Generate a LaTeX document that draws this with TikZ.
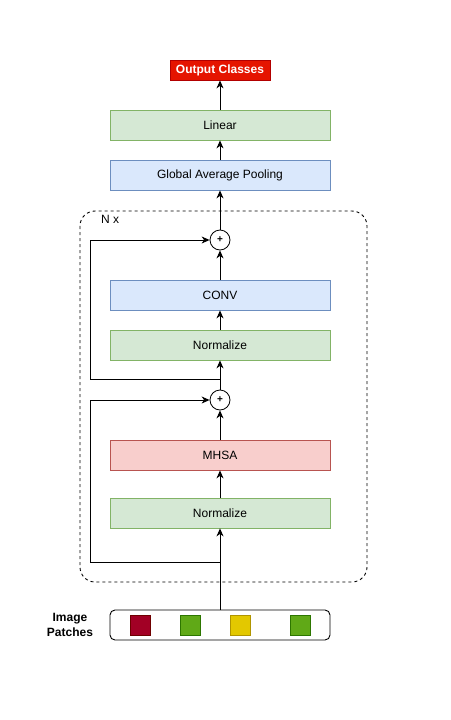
\documentclass[tikz,border=0pt]{standalone}
\usepackage{fontspec}
\setmainfont{Liberation Sans}
\usetikzlibrary{arrows.meta}
\definecolor{gfill}{HTML}{D5E8D4}\definecolor{gline}{HTML}{82B366}
\definecolor{bfill}{HTML}{DAE8FC}\definecolor{bline}{HTML}{6C8EBF}
\definecolor{rfill}{HTML}{F8CECC}\definecolor{rline}{HTML}{B85450}
\definecolor{ofill}{HTML}{E51400}\definecolor{oline}{HTML}{B20000}
\definecolor{p1f}{HTML}{A20025}\definecolor{p1l}{HTML}{6F0000}
\definecolor{p2f}{HTML}{60A917}\definecolor{p2l}{HTML}{2D7600}
\definecolor{p3f}{HTML}{E3C800}\definecolor{p3l}{HTML}{B09500}
\begin{document}
\begin{tikzpicture}[x=1pt,y=-1pt,
  every node/.style={font=\fontsize{12}{14}\selectfont, inner sep=0pt},
  box/.style={draw, minimum width=220pt, minimum height=30pt, line width=0.8pt},
  gbox/.style={box, fill=gfill, draw=gline},
  bbox/.style={box, fill=bfill, draw=bline},
  rbox/.style={box, fill=rfill, draw=rline},
  plus/.style={draw, circle, minimum size=20pt, line width=0.8pt, font=\bfseries\fontsize{10}{12}\selectfont},
  patch/.style={minimum size=20pt, line width=0.8pt},
  arr/.style={-{Stealth[length=8pt,width=7pt,inset=2.5pt]}, line width=0.9pt},
  ln/.style={line width=0.9pt}]
\useasboundingbox (0,0) rectangle (450,720);
% container
\draw[dash pattern=on 3pt off 3pt, line width=0.9pt, rounded corners=15pt, draw=black] (80,211) rectangle (367,582);
\node[anchor=west] (nx) at (101,219) {N x};
% nodes
\node[draw=oline, fill=ofill, text=white, font=\bfseries\fontsize{12}{14}\selectfont, minimum width=100pt, minimum height=20pt, line width=0.8pt] (out) at (220,70) {Output Classes};
\node[gbox] (lin) at (220,125) {Linear};
\node[bbox] (gap) at (220,175) {Global Average Pooling};
\node[plus] (p1) at (220,240) {+};
\node[bbox] (conv) at (220,295) {CONV};
\node[gbox] (norm2) at (220,345) {Normalize};
\node[plus] (p2) at (220,400) {+};
\node[rbox] (mhsa) at (220,455) {MHSA};
\node[gbox] (norm1) at (220,513) {Normalize};
\node[draw, rounded corners=5pt, minimum width=220pt, minimum height=30pt, line width=0.9pt] (img) at (220,625) {};
\node[patch, fill=p1f, draw=p1l] (s1) at (140,625) {};
\node[patch, fill=p2f, draw=p2l] (s2) at (190,625) {};
\node[patch, fill=p3f, draw=p3l] (s3) at (240,625) {};
\node[patch, fill=p2f, draw=p2l] (s4) at (300,625) {};
\node[font=\bfseries\fontsize{12}{15}\selectfont, align=center] (lbl) at (70,625) {Image\\Patches};
% connectors
\coordinate (b1) at (220,562);
\coordinate (b2) at (220,379);
\draw[arr] (img.north) -- (norm1.south);
\draw[ln] (b1) -- (90,562) -- (90,400);
\draw[arr] (90,400) -- (p2.west);
\draw[arr] (norm1.north) -- (mhsa.south);
\draw[arr] (mhsa.north) -- (p2.south);
\draw[arr] (p2.north) -- (norm2.south);
\draw[ln] (b2) -- (90,379) -- (90,240);
\draw[arr] (90,240) -- (p1.west);
\draw[arr] (norm2.north) -- (conv.south);
\draw[arr] (conv.north) -- (p1.south);
\draw[arr] (p1.north) -- (gap.south);
\draw[arr] (gap.north) -- (lin.south);
\draw[arr] (lin.north) -- (out.south);
\end{tikzpicture}
\end{document}
